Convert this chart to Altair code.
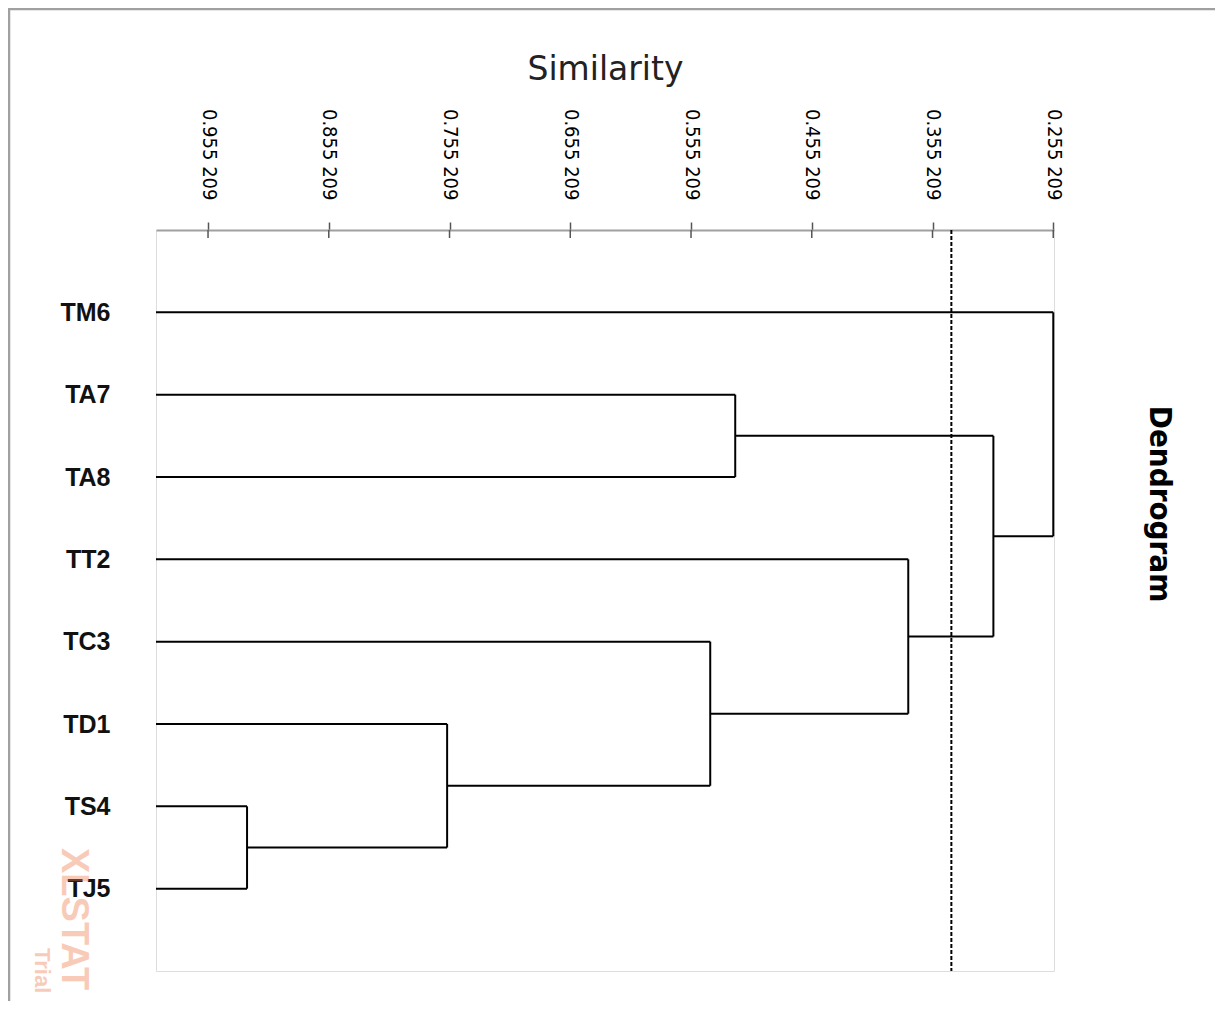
import altair as alt
import pandas as pd

# ---- data ----
leaves = ["TM6", "TA7", "TA8", "TT2", "TC3", "TD1", "TS4", "TJ5"]
# cluster ids: leaves 0..7, merges 8..14 in order
merge_left = [6, 5, 4, 1, 3, 11, 0]
merge_right = [7, 8, 9, 2, 10, 12, 13]
merge_height = [0.9229, 0.7572, 0.5393, 0.5186, 0.3753, 0.3048, 0.2552]
leaf_similarity = 0.9983
axis_min = 0.2546
truncation = 0.3396
tick_values = [0.955209, 0.855209, 0.755209, 0.655209,
               0.555209, 0.455209, 0.355209, 0.255209]

# ---- build dendrogram segments from the merges ----
pos = {i: float(i) for i in range(len(leaves))}
hgt = {i: leaf_similarity for i in range(len(leaves))}
segs = []
for k, (a, b, h) in enumerate(zip(merge_left, merge_right, merge_height)):
    nid = len(leaves) + k
    for c in (a, b):
        segs.append(dict(x=hgt[c], x2=h, y=pos[c], y2=pos[c]))
    segs.append(dict(x=h, x2=h, y=pos[a], y2=pos[b]))
    pos[nid] = (pos[a] + pos[b]) / 2
    hgt[nid] = h
seg_df = pd.DataFrame(segs)
tick_df = pd.DataFrame({"t": tick_values})

W, H = 898, 741
xscale = alt.Scale(domain=[axis_min, leaf_similarity], reverse=True, nice=False, zero=False)
yscale = alt.Scale(domain=[-1, len(leaves)], reverse=True, nice=False, zero=False)

names_expr = "[" + ",".join("'%s'" % n for n in leaves) + "][datum.value]"
fmt = "format(datum.value,'.6f')"
xlabel_expr = "substring(%s,0,5) + ' ' + substring(%s,5)" % (fmt, fmt)

dendro = alt.Chart(seg_df).mark_rule(color="black", strokeWidth=2).encode(
    x=alt.X("x:Q", scale=xscale, title="Similarity",
            axis=alt.Axis(orient="top", values=tick_values, labelExpr=xlabel_expr,
                          labelAngle=90, labelAlign="right", labelBaseline="middle",
                          labelFont="DejaVu Sans Condensed", labelFontSize=20,
                          labelFontWeight=500, labelColor="#000", labelPadding=22,
                          tickSize=8, tickColor="#555", tickWidth=1.5,
                          domainColor="#a0a0a0", domainWidth=2, grid=False,
                          titleFont="DejaVu Sans", titleFontSize=33,
                          titleFontWeight="normal", titleColor="#222",
                          titlePadding=22)),
    x2="x2:Q",
    y=alt.Y("y:Q", scale=yscale, title=None,
            axis=alt.Axis(values=list(range(len(leaves))), labelExpr=names_expr,
                          domain=False, ticks=False, grid=False,
                          labelFont="Liberation Sans", labelFontSize=25,
                          labelFontWeight="bold", labelColor="#111",
                          labelPadding=46)),
    y2="y2:Q",
)

inner_ticks = alt.Chart(tick_df).mark_rule(color="#555", strokeWidth=1.5).encode(
    x=alt.X("t:Q", scale=xscale),
    y=alt.value(0),
    y2=alt.value(8),
)

cut = alt.Chart(pd.DataFrame({"c": [truncation]})).mark_rule(
    color="black", strokeWidth=2, strokeDash=[4, 2]
).encode(x=alt.X("c:Q", scale=xscale))

one = pd.DataFrame({"k": [0]})
border = alt.Chart(one).mark_rect(fill=None, stroke="#a0a0a0", strokeWidth=2.5).encode(
    x=alt.value(-147), x2=alt.value(1061), y=alt.value(-221), y2=alt.value(820)
)

side_title = alt.Chart(one).mark_text(
    text="Dendrogram", angle=90, align="center", baseline="middle",
    font="DejaVu Sans Condensed", fontSize=31, fontWeight="bold", color="black"
).encode(x=alt.value(1003), y=alt.value(274))

wm1 = alt.Chart(one).mark_text(
    text="XLSTAT", angle=90, align="left", baseline="alphabetic",
    font="Liberation Sans", fontSize=38, fontWeight="bold", color="#f08050", opacity=0.4
).encode(x=alt.value(-94), y=alt.value(618))

wm2 = alt.Chart(one).mark_text(
    text="Trial", angle=90, align="left", baseline="alphabetic",
    font="Liberation Sans", fontSize=22, fontWeight="bold", color="#f08050", opacity=0.4
).encode(x=alt.value(-121), y=alt.value(718))

chart = alt.layer(border, dendro, inner_ticks, cut, side_title, wm1, wm2).properties(
    width=W, height=H,
    autosize=alt.AutoSizeParams(type="none"),
    padding={"left": 148, "top": 222, "right": 161, "bottom": 30},
).configure_view(stroke="#a6a6a6", strokeWidth=2).configure(background="white")

chart.save("out.html", embed_options={"renderer": "svg", "actions": False})
